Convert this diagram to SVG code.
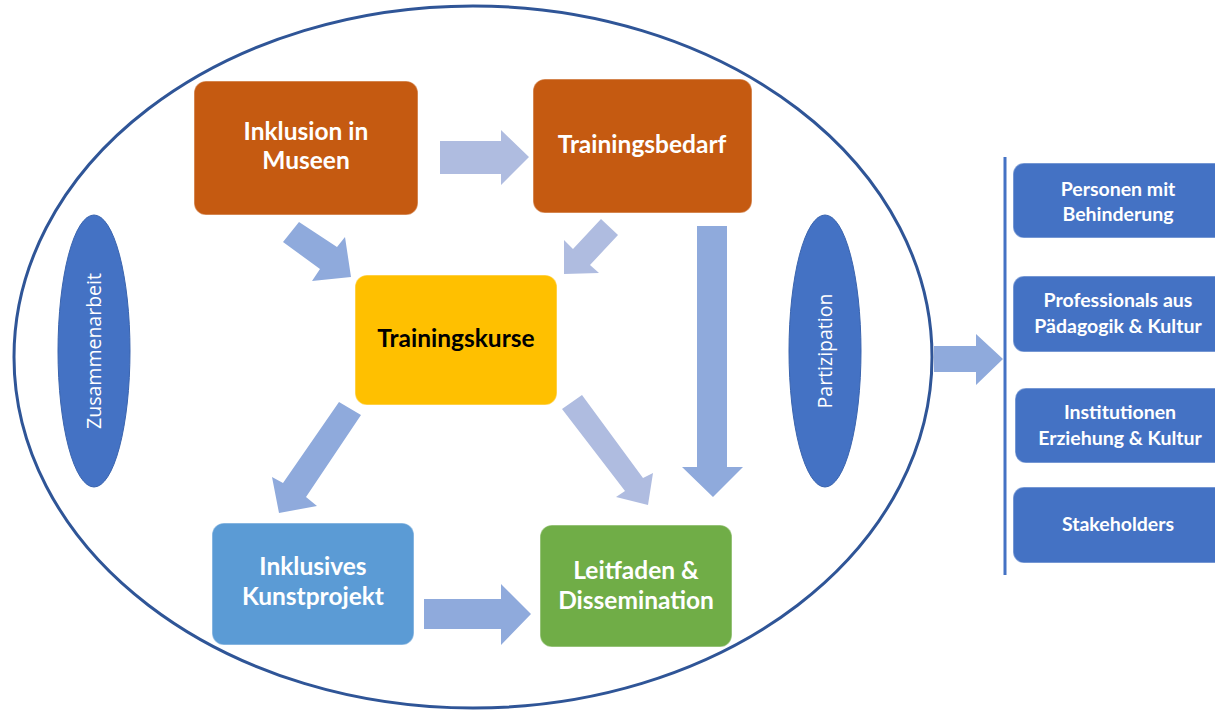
<svg xmlns="http://www.w3.org/2000/svg" width="1215" height="712" viewBox="0 0 1215 712">
<style>
.box{stroke:#ffffff;stroke-opacity:0.35;stroke-width:1.5}
.t{font-family:Lato,"Open Sans","Liberation Sans",sans-serif;font-weight:bold;font-size:24.5px;fill:#ffffff;text-anchor:middle}
.tk{fill:#000000}
.ts{font-size:19.5px}
.el{fill:#4472C4;stroke:#3A64AE;stroke-width:1}
.et{font-family:"Open Sans","Liberation Sans",sans-serif;font-size:19.5px;fill:#ffffff;text-anchor:middle}
.a1{fill:#8FAADC}
.a2{fill:#AFBCE0}
</style>
<rect width="1215" height="712" fill="#ffffff"/>
<g id="frame">
<ellipse cx="473" cy="357" rx="459" ry="351" fill="none" stroke="#2F5597" stroke-width="3"/>
</g>
<g id="connectors">
<polygon class="a2" points="440,141 501,141 501,130 529,157 501,185 501,174 440,174"/>
<polygon class="a1" points="299,222 337,247 345,237 351,277 312,281 320,269 283,242"/>
<polygon class="a2" points="601,219 618,235 590,265 599,273 564,274 564,240 573,249"/>
<polygon class="a1" points="697,226 727,226 727,467 743,467 713,497 682,467 697,467"/>
<polygon class="a1" points="339,402 361,415 306,497 317,506 279,513 272,477 283,483"/>
<polygon class="a2" points="562,409 582,395 643,478 653,473 648,505 616,497 625,491"/>
<polygon class="a1" points="424,599 501,599 501,584 531,614 501,645 501,629 424,629"/>
<polygon class="a1" points="934,346 976,346 976,334 1003,359 976,385 976,372 934,372"/>
<line x1="1005" y1="157" x2="1005" y2="575" stroke="#4472C4" stroke-width="3"/>
</g>
<g id="n-inklusion">
<rect class="box" x="194" y="81" width="224" height="134" rx="12" fill="#C55A11"/>
<text class="t" x="306" y="140">Inklusion in</text>
<text class="t" x="306" y="169">Museen</text>
</g>
<g id="n-trainingsbedarf">
<rect class="box" x="533" y="79" width="219" height="134" rx="12" fill="#C55A11"/>
<text class="t" x="642" y="153">Trainingsbedarf</text>
</g>
<g id="n-trainingskurse">
<rect class="box" x="355" y="275" width="202" height="130" rx="12" fill="#FFC000"/>
<text class="t tk" x="456" y="347">Trainingskurse</text>
</g>
<g id="n-kunstprojekt">
<rect class="box" x="212" y="523" width="202" height="122" rx="12" fill="#5B9BD5"/>
<text class="t" x="313" y="575">Inklusives</text>
<text class="t" x="313" y="605">Kunstprojekt</text>
</g>
<g id="n-leitfaden">
<rect class="box" x="540" y="525" width="192" height="122" rx="12" fill="#70AD47"/>
<text class="t" x="636" y="579">Leitfaden &amp;</text>
<text class="t" x="636" y="609">Dissemination</text>
</g>
<g id="n-zusammenarbeit">
<ellipse class="el" cx="94" cy="351" rx="36" ry="136"/>
<text class="et" transform="translate(101,351) rotate(-90)">Zusammenarbeit</text>
</g>
<g id="n-partizipation">
<ellipse class="el" cx="825" cy="351" rx="36" ry="136"/>
<text class="et" transform="translate(832,351) rotate(-90)">Partizipation</text>
</g>
<g id="n-personen">
<rect class="box" x="1013" y="163" width="212" height="75" rx="11" fill="#4472C4"/>
<text class="t ts" x="1118" y="196">Personen mit</text>
<text class="t ts" x="1118" y="221">Behinderung</text>
</g>
<g id="n-professionals">
<rect class="box" x="1013" y="276" width="212" height="76" rx="11" fill="#4472C4"/>
<text class="t ts" x="1118" y="307">Professionals aus</text>
<text class="t ts" x="1118" y="333">Pädagogik &amp; Kultur</text>
</g>
<g id="n-institutionen">
<rect class="box" x="1015" y="388" width="210" height="75" rx="11" fill="#4472C4"/>
<text class="t ts" x="1120" y="419">Institutionen</text>
<text class="t ts" x="1120" y="445">Erziehung &amp; Kultur</text>
</g>
<g id="n-stakeholders">
<rect class="box" x="1013" y="487" width="212" height="76" rx="11" fill="#4472C4"/>
<text class="t ts" x="1118" y="531">Stakeholders</text>
</g>
</svg>
